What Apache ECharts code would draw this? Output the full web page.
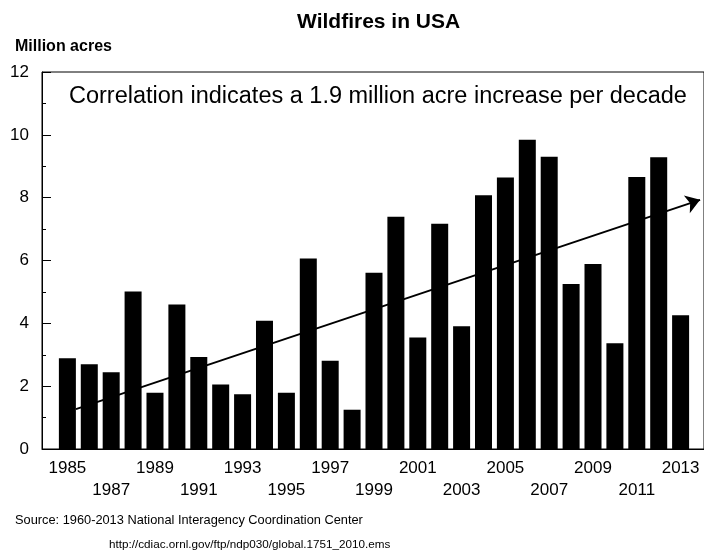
<!DOCTYPE html>
<html>
<head>
<meta charset="utf-8">
<script src="https://cdn.jsdelivr.net/npm/echarts@6/dist/echarts.min.js"></script>
<style>
html,body{margin:0;padding:0;background:#fff;}
#chart{width:704px;height:558px;}
</style>
</head>
<body>
<div id="chart"></div>
<script>
// ---- data ----
var years = [1985,1986,1987,1988,1989,1990,1991,1992,1993,1994,1995,1996,1997,1998,1999,
             2000,2001,2002,2003,2004,2005,2006,2007,2008,2009,2010,2011,2012,2013];
var acres = [2.89,2.70,2.44,5.01,1.79,4.60,2.93,2.05,1.74,4.08,1.79,6.06,2.81,1.25,5.61,
             7.39,3.55,7.17,3.91,8.08,8.64,9.84,9.30,5.25,5.89,3.37,8.66,9.29,4.26];
var yearLabels = [1985,1987,1989,1991,1993,1995,1997,1999,2001,2003,2005,2007,2009,2011,2013];
var trendStart = [1985.39, 1.27];
var trendEnd = [2013.89, 7.93];
var yTicks = {min: 0, max: 12, interval: 2};

var titleText = 'Wildfires in USA';
var unitText = 'Million acres';
var noteText = 'Correlation indicates a 1.9 million acre increase per decade';
var sourceText = 'Source: 1960-2013 National Interagency Coordination Center';
var urlText = 'http://cdiac.ornl.gov/ftp/ndp030/global.1751_2010.ems';

var barData = years.map(function (y, i) { return [y, acres[i]]; });

var chart = echarts.init(document.getElementById('chart'), null, {renderer: 'canvas'});
var font = 'Liberation Sans, Arial, Helvetica, sans-serif';
chart.setOption({
  animation: false,
  backgroundColor: '#fff',
  title: [
    {text: titleText, left: 292, top: 7, textStyle: {fontFamily: font, fontSize: 21, fontWeight: 'bold', color: '#000'}},
    {text: unitText, left: 10, top: 34, textStyle: {fontFamily: font, fontSize: 16, fontWeight: 'bold', color: '#000'}},
    {text: noteText, left: 64, top: 80, textStyle: {fontFamily: font, fontSize: 23.5, fontWeight: 'normal', color: '#000'}},
    {text: sourceText, left: 10, top: 509, textStyle: {fontFamily: font, fontSize: 12.8, fontWeight: 'normal', color: '#000'}},
    {text: urlText, left: 104, top: 534, textStyle: {fontFamily: font, fontSize: 11.7, fontWeight: 'normal', color: '#000'}}
  ],
  grid: {left: 42, right: -3, top: 72, bottom: 109, show: true, borderColor: '#000', borderWidth: 1, backgroundColor: 'transparent'},
  xAxis: {
    type: 'value',
    min: 1985 - 25.5 / 22,
    max: 1985 + 639.5 / 22,
    axisLine: {show: true, lineStyle: {color: '#000', width: 1}},
    axisTick: {show: false},
    splitLine: {show: false},
    axisLabel: {
      customValues: yearLabels,
      margin: 8,
      color: '#000',
      fontFamily: font,
      fontSize: 17,
      lineHeight: 22,
      formatter: function (v) {
        var k = Math.round((v - 1985) / 2);
        return (k % 2 === 0) ? String(v) : '\n' + v;
      }
    }
  },
  yAxis: {
    type: 'value',
    min: yTicks.min, max: yTicks.max, interval: yTicks.interval,
    axisLine: {show: true, lineStyle: {color: '#000', width: 1}},
    axisTick: {show: true, inside: true, length: 9, lineStyle: {color: '#000'}},
    minorTick: {show: true, splitNumber: 2, length: 4, lineStyle: {color: '#000'}},
    splitLine: {show: false},
    axisLabel: {margin: 13, color: '#000', fontFamily: font, fontSize: 17}
  },
  series: [{
    type: 'bar',
    data: barData,
    barWidth: 17,
    itemStyle: {color: '#000'},
    silent: true,
    markLine: {
      silent: true,
      symbol: ['none', 'arrow'],
      symbolSize: 14,
      label: {show: false},
      lineStyle: {color: '#000', width: 2, type: 'solid'},
      data: [[{coord: trendStart}, {coord: trendEnd}]]
    }
  }]
});
</script>
</body>
</html>
